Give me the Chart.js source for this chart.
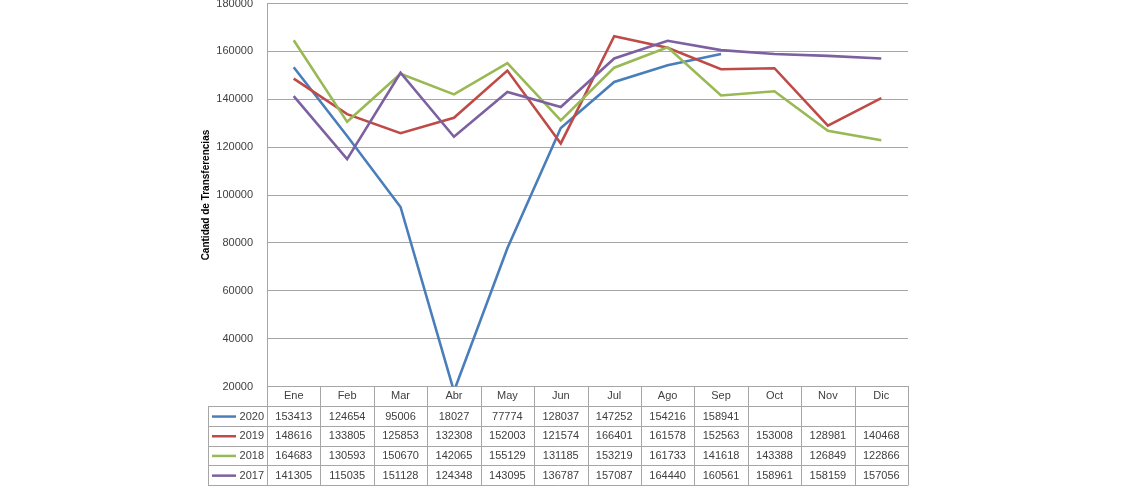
<!DOCTYPE html>
<html>
<head>
<meta charset="utf-8">
<script src="https://cdn.jsdelivr.net/npm/chart.js@4/dist/chart.umd.min.js"></script>
<style>
html,body{margin:0;padding:0;background:#fff;overflow:hidden;}
#wrap{width:1140px;height:500px;position:relative;overflow:hidden;}
#c{position:absolute;left:0;top:-17px;}
</style>
</head>
<body>
<div id="wrap"><canvas id="c" width="1140" height="517"></canvas></div>
<script>
const months = ["Ene","Feb","Mar","Abr","May","Jun","Jul","Ago","Sep","Oct","Nov","Dic"];
const years = ["2020","2019","2018","2017"];
const colors = ["#4A7EBB","#BE4B48","#98B954","#7D60A0"];
const s2020 = [153413,124654,95006,18027,77774,128037,147252,154216,158941,null,null,null];
const s2019 = [148616,133805,125853,132308,152003,121574,166401,161578,152563,153008,128981,140468];
const s2018 = [164683,130593,150670,142065,155129,131185,153219,161733,141618,143388,126849,122866];
const s2017 = [141305,115035,151128,124348,143095,136787,157087,164440,160561,158961,158159,157056];
const yTicks = {min:20000,max:180000,step:20000};
const yTitle = "Cantidad de Transferencias";
const series = [s2020,s2019,s2018,s2017];

const FONT = "'Liberation Sans', Arial, sans-serif";
const TXT = "#404040";
const GRID = "#a6a6a6";
const ROWH = 19.7;

const tablePlugin = {
  id:'table',
  afterDraw(chart){
    const ctx = chart.ctx;
    const xs = chart.scales.x;
    const L = xs.left, R = xs.right, T = xs.top;
    const w = (R-L)/months.length;
    const legL = 208;
    const B = T + ROWH*5;
    ctx.save();
    ctx.strokeStyle = GRID;
    ctx.lineWidth = 1;
    ctx.beginPath();
    for(let k=0;k<=months.length;k++){
      const x = Math.round(L + k*w)+0.5;
      ctx.moveTo(x,T); ctx.lineTo(x,B);
    }
    ctx.moveTo(legL+0.5,T+ROWH); ctx.lineTo(legL+0.5,B);
    for(let r=1;r<=5;r++){
      const y = Math.round(T+r*ROWH)+0.5;
      ctx.moveTo(legL,y); ctx.lineTo(R+0.5,y);
    }
    ctx.stroke();
    ctx.font = "11px "+FONT;
    ctx.fillStyle = TXT;
    ctx.textBaseline = "middle";
    for(let s=0;s<series.length;s++){
      const yc = T + (s+1)*ROWH + ROWH/2 + 0.5;
      ctx.textAlign = "center";
      ctx.fillStyle = TXT;
      for(let i=0;i<months.length;i++){
        const v = series[s][i];
        if(v===null) continue;
        ctx.fillText(String(v), xs.getPixelForValue(i), yc);
      }
      ctx.strokeStyle = colors[s];
      ctx.lineWidth = 2.5;
      ctx.beginPath();
      ctx.moveTo(212,yc); ctx.lineTo(236,yc);
      ctx.stroke();
      ctx.textAlign = "right";
      ctx.fillText(years[s], 264, yc);
    }
    ctx.restore();
  }
};

new Chart(document.getElementById('c'),{
  type:'line',
  data:{
    labels:months,
    datasets: years.map((y,i)=>({
      label:y, data:series[i], borderColor:colors[i], backgroundColor:colors[i],
      borderWidth:2.6, pointRadius:0, tension:0, spanGaps:false
    })).reverse()
  },
  options:{
    responsive:false, animation:false,
    layout:{padding:{left:195,top:0,right:232,bottom:12}},
    plugins:{legend:{display:false},tooltip:{enabled:false}},
    scales:{
      x:{
        offset:true,
        grid:{display:false,drawTicks:false},
        border:{display:true,color:GRID},
        ticks:{color:TXT,font:{size:11,family:FONT},padding:3,maxRotation:0},
        afterFit(s){ s.height = ROWH*5+3; }
      },
      y:{
        min:yTicks.min, max:yTicks.max,
        grid:{color:GRID,drawTicks:false},
        border:{display:true,color:GRID},
        ticks:{stepSize:yTicks.step,color:TXT,font:{size:11,family:FONT},padding:14,
          callback:(v)=>String(v)},
        title:{display:true,text:yTitle,color:"#000",font:{size:10,weight:'bold',family:FONT},padding:{top:5,bottom:0}},
        afterFit(s){ s.width = 72; }
      }
    }
  },
  plugins:[tablePlugin]
});
</script>
</body>
</html>
